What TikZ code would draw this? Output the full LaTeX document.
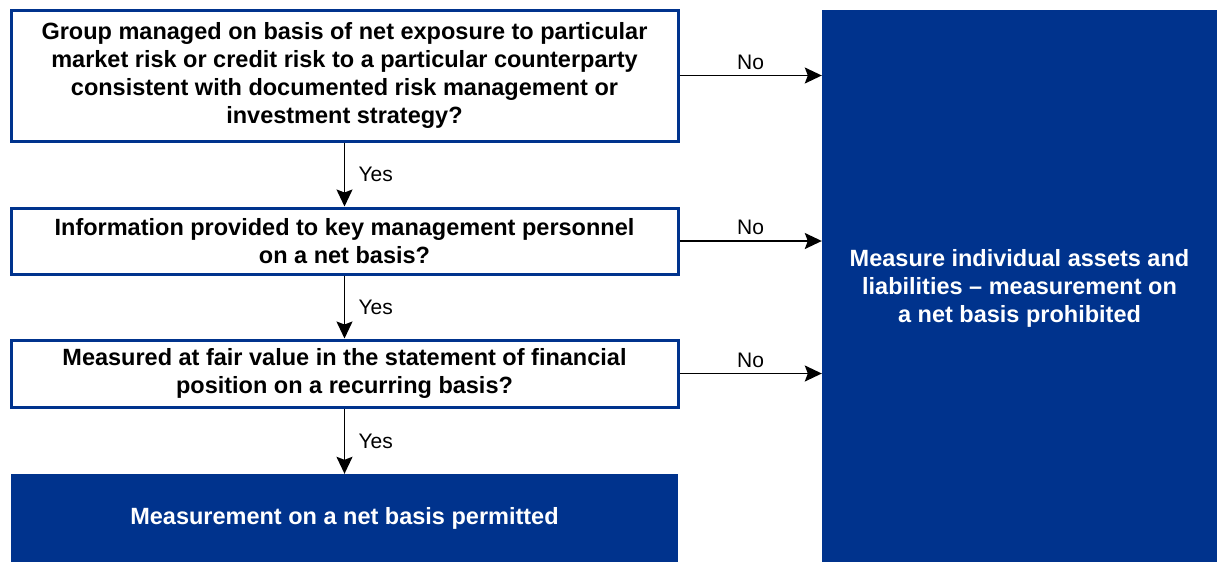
\documentclass[tikz,border=0pt]{standalone}
\usepackage{fontspec}
\setmainfont{Liberation Sans}
\usetikzlibrary{arrows.meta}
\definecolor{kblue}{HTML}{00338D}

\begin{document}
\begin{tikzpicture}[x=1pt,y=-1pt,
        question/.style={draw=kblue,line width=3pt,fill=white,align=center,
                minimum width=667pt,inner sep=0pt,
                font=\fontsize{23.5}{28}\selectfont\bfseries},
        result/.style={fill=kblue,text=white,align=center,inner sep=0pt,
                font=\fontsize{23.5}{28}\selectfont\bfseries},
        flow/.style={-{Stealth[length=17pt,width=16pt,inset=3pt]},line width=1.6pt},
        lbl/.style={font=\fontsize{21}{24}\selectfont}]
        \useasboundingbox (0,0) rectangle (1217,562);
        \node[question,minimum height=131pt] at (344.5,75.5)  (q_1)
                {Group managed on basis of net exposure to particular\\
                 market risk or credit risk to a particular counterparty\\
                 consistent with documented risk management or\\
                 investment strategy?};
        \node[question,minimum height=66pt]  at (344.5,241)   (q_2)
                {Information provided to key management personnel\\
                 on a net basis?};
        \node[question,minimum height=67pt]  at (344.5,373.5) (q_3)
                {Measured at fair value in the statement of financial\\
                 position on a recurring basis?};
        \node[result,minimum width=667pt,minimum height=88pt] at (344.5,518) (yes)
                {Measurement on a net basis permitted};
        \node[result,minimum width=395pt,minimum height=552pt] at (1019.5,286) (no)
                {};
        \node[result] at (1019.5,288) (no_text)
                {Measure individual assets and\\
                 liabilities -- measurement on\\
                 a net basis prohibited};

        \draw[flow] (q_1) -- node[lbl,right=10pt] {Yes} (q_2);
        \draw[flow] (q_2) -- node[lbl,right=10pt] {Yes} (q_3);
        \draw[flow] (q_3) -- node[lbl,right=10pt] {Yes} (yes);
        \draw[flow] (q_1.east) -- node[lbl,above=2pt] {No} (q_1.east -| no.west);
        \draw[flow] (q_2.east) -- node[lbl,above=2pt] {No} (q_2.east -| no.west);
        \draw[flow] (q_3.east) -- node[lbl,above=2pt] {No} (q_3.east -| no.west);
\end{tikzpicture}
\end{document}
